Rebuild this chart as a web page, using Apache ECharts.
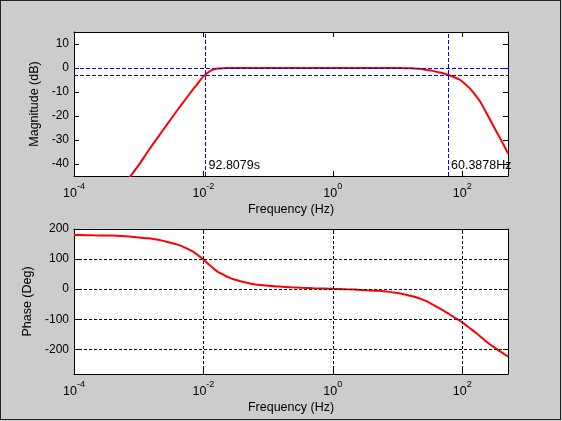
<!DOCTYPE html>
<html>
<head>
<meta charset="utf-8">
<script src="https://cdn.jsdelivr.net/npm/echarts@6/dist/echarts.min.js"></script>
<style>
  html, body { margin: 0; padding: 0; background: #cccccc; }
  #frame { position: absolute; left: 0; top: 0; width: 559px; height: 418px; border: 1px solid #222; }
  #main { position: absolute; left: 0; top: 0; width: 562px; height: 421px; }
</style>
</head>
<body>
<div id="frame"></div>
<div id="main"></div>
<script>
// frequency samples (Hz) and the values
const freqs = [1e-4, 1.5e-4, 2e-4, 3e-4, 4e-4, 5.5e-4, 7e-4, 1e-3, 1.4e-3, 2e-3,
  2.8e-3, 4e-3, 5e-3, 6e-3, 7e-3, 8e-3, 9e-3, 0.01, 0.011, 0.012,
  0.0135, 0.015, 0.017, 0.02, 0.024, 0.03, 0.04, 0.055, 0.075, 0.1,
  0.15, 0.22, 0.33, 0.5, 0.75, 1, 1.5, 2.2, 3.3, 5,
  7.5, 10, 13, 17, 22, 28, 35, 45, 55, 65,
  75, 92, 110, 130, 160, 190, 230, 270, 320, 380,
  440, 510];
const magDb = [-80, -73, -68, -61, -56, -50.5, -46, -40.5, -34.6, -28.7,
  -23.2, -17.4, -13.9, -11.1, -8.7, -6.8, -4.9, -3.5, -2.5, -1.7,
  -0.9, -0.45, -0.2, -0.08, -0.03, 0, 0, 0, 0, 0,
  0, 0, 0, 0, 0, 0, 0, 0, 0, 0,
  0, -0.03, -0.07, -0.15, -0.3, -0.8, -1.2, -1.9, -2.5, -3.1,
  -3.85, -4.9, -6.6, -8.4, -11.3, -14.1, -18.1, -21.6, -25.3, -29.0,
  -32.2, -35.6];
const phaseDeg = [180, 179.5, 179, 178.5, 178, 176.5, 175, 172, 169, 164,
  157, 148, 140, 131.5, 124, 115, 106.5, 99, 90.5, 83,
  74, 65, 57, 49, 40, 32, 24.5, 18, 13.5, 11,
  8.5, 6.3, 4.6, 3.2, 2, 1, 0, -1.5, -3.5, -5.5,
  -9, -13, -17.5, -23.5, -31, -40, -51, -64, -75.5, -85,
  -93.5, -105, -117, -129, -144, -157, -172, -184, -195, -206,
  -215, -224];

const magTicks = [-40, -30, -20, -10, 0, 10];
const phaseTicks = [-200, -100, 0, 100, 200];
const phaseGrid = [-200, -100, 0, 100];
const decadeGrid = [-2, 0, 2];   // exponents of 10

const cutoffLevels = [0, -3];     // dB
const lowCutPeriod = 92.8079;     // s
const highCutFreq = 60.3878;      // Hz

const fMin = 1e-4, fMax = 510;
const magMin = -45, magMax = 15;
const phaseMin = -282, phaseMax = 200;

const font = 'Liberation Sans, Arial, sans-serif';
const lg = v => Math.log10(v);

function freqAxis(gridIndex, pos) {
  const bottom = pos === 'bottom';
  return {
    type: 'value', gridIndex: gridIndex, position: pos,
    min: lg(fMin), max: lg(fMax), interval: 2,
    name: bottom ? 'Frequency (Hz)' : '',
    nameLocation: 'middle', nameGap: 27,
    nameTextStyle: {color: '#000', fontSize: 12.5, fontFamily: font},
    axisLine: {show: true, onZero: false, lineStyle: {color: '#000', width: 1}},
    axisTick: {show: true, inside: true, length: 5, lineStyle: {color: '#000'}},
    axisLabel: {
      show: bottom, showMaxLabel: false, margin: 6,
      formatter: v => '{b|10}{s|' + Math.round(v) + '}',
      rich: {
        b: {fontSize: 12.5, fontFamily: font, color: '#000', lineHeight: 18, verticalAlign: 'bottom'},
        s: {fontSize: 9, fontFamily: font, color: '#000', lineHeight: 4, verticalAlign: 'top'}
      }
    },
    splitLine: {show: false}
  };
}

function valueAxis(gridIndex, pos, min, max, ticks, name, gap) {
  const left = pos === 'left';
  return {
    type: 'value', gridIndex: gridIndex, position: pos, min: min, max: max,
    name: left ? name : '', nameLocation: 'middle', nameGap: gap,
    nameTextStyle: {color: '#000', fontSize: 12.5, fontFamily: font},
    axisLine: {show: true, onZero: false, lineStyle: {color: '#000', width: 1}},
    axisTick: {show: true, inside: true, length: 5, customValues: ticks, lineStyle: {color: '#000'}},
    axisLabel: {show: left, customValues: ticks, margin: 5, color: '#000', fontSize: 12, fontFamily: font},
    splitLine: {show: false}
  };
}

const magData = freqs.map((f, i) => [lg(f), magDb[i]]);
const phaseData = freqs.map((f, i) => [lg(f), phaseDeg[i]]);

const markerLabel = {show: true, position: 'right', distance: 3, color: '#000', fontSize: 12.5, fontFamily: font};

const option = {
  animation: false,
  grid: [
    {left: 74, top: 32, width: 434, height: 144, show: true, backgroundColor: '#fff', borderWidth: 0},
    {left: 74, top: 229, width: 434, height: 145, show: true, backgroundColor: '#fff', borderWidth: 0}
  ],
  xAxis: [freqAxis(0, 'bottom'), freqAxis(0, 'top'), freqAxis(1, 'bottom'), freqAxis(1, 'top')],
  yAxis: [
    valueAxis(0, 'left', magMin, magMax, magTicks, 'Magnitude (dB)', 28.5),
    valueAxis(0, 'right', magMin, magMax, magTicks, '', 0),
    valueAxis(1, 'left', phaseMin, phaseMax, phaseTicks, 'Phase (Deg)', 36),
    valueAxis(1, 'right', phaseMin, phaseMax, phaseTicks, '', 0)
  ],
  series: [
    {
      type: 'line', xAxisIndex: 0, yAxisIndex: 0, data: [], z: 1, silent: true,
      markLine: {
        silent: true, symbol: ['none', 'none'], label: {show: false},
        lineStyle: {color: '#0000ff', type: [4, 2], width: 1},
        data: cutoffLevels.map(v => ({yAxis: v}))
          .concat([{xAxis: lg(1 / lowCutPeriod)}, {xAxis: lg(highCutFreq)}])
      },
      markPoint: {
        silent: true, symbol: 'circle', symbolSize: 0, label: markerLabel,
        data: [
          {coord: [lg(1 / lowCutPeriod), -40.8], label: {formatter: lowCutPeriod + 's'}},
          {coord: [lg(highCutFreq), -40.8], label: {formatter: highCutFreq + 'Hz'}}
        ]
      }
    },
    {
      type: 'line', xAxisIndex: 0, yAxisIndex: 0, data: magData, z: 3,
      showSymbol: false, smooth: 0.3, clip: true,
      lineStyle: {color: '#ff0000', width: 2}, itemStyle: {color: '#ff0000'}
    },
    {
      type: 'line', xAxisIndex: 2, yAxisIndex: 2, data: [], z: 1, silent: true,
      markLine: {
        silent: true, symbol: ['none', 'none'], label: {show: false},
        lineStyle: {color: '#000', type: [3, 2], width: 1},
        data: decadeGrid.map(v => ({xAxis: v})).concat(phaseGrid.map(v => ({yAxis: v})))
      }
    },
    {
      type: 'line', xAxisIndex: 2, yAxisIndex: 2, data: phaseData, z: 3,
      showSymbol: false, smooth: 0.3, clip: true,
      lineStyle: {color: '#ff0000', width: 2}, itemStyle: {color: '#ff0000'}
    }
  ]
};

const chart = echarts.init(document.getElementById('main'));
chart.setOption(option);
</script>
</body>
</html>
